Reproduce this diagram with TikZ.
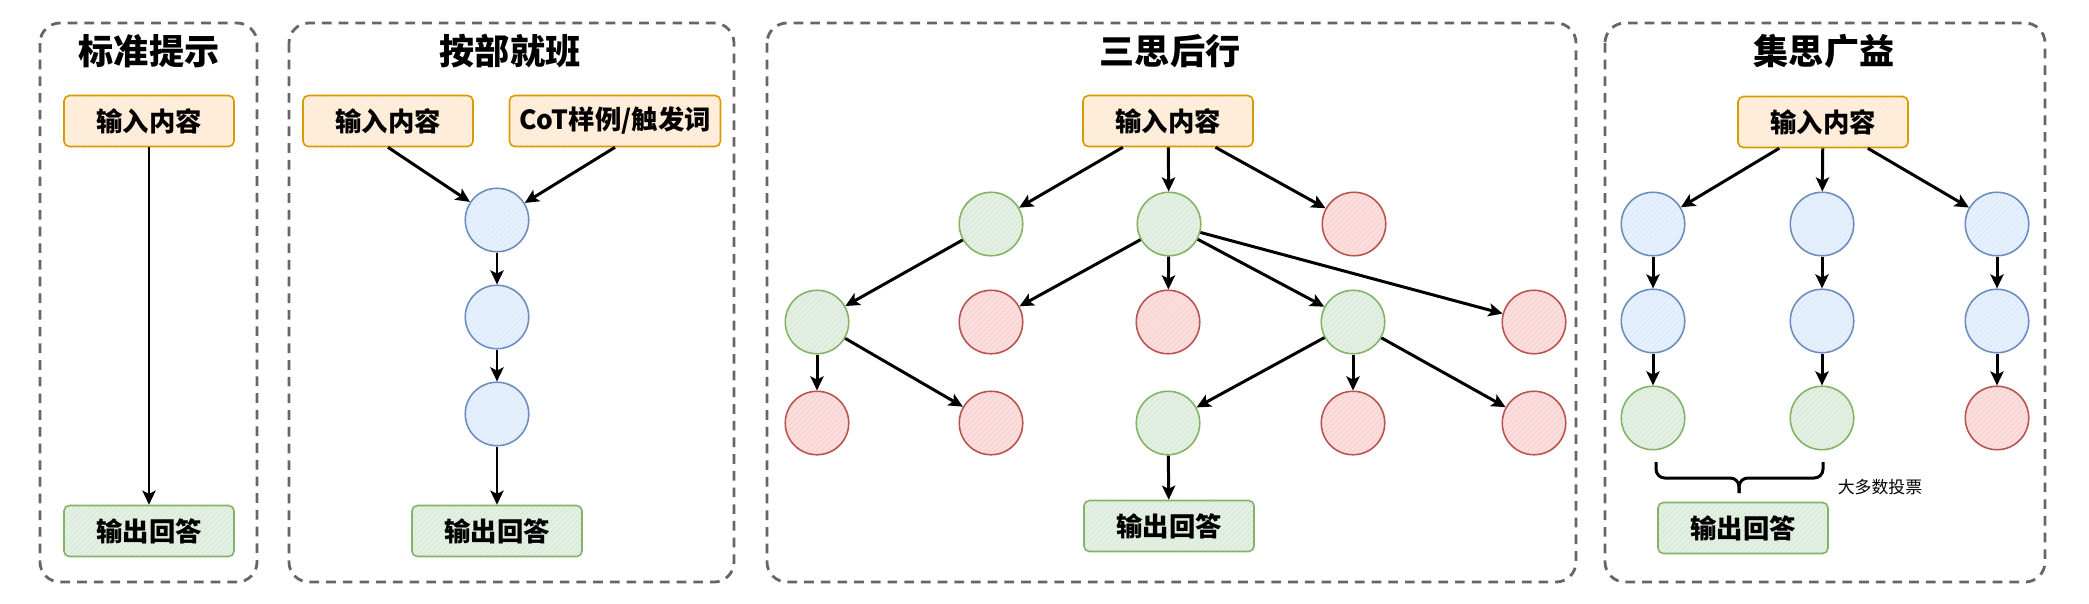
\documentclass[tikz,border=0pt]{standalone}
\usepackage{fontspec}
\setmainfont{Noto Sans CJK SC}
\usetikzlibrary{arrows.meta,patterns,positioning}

\definecolor{orangefill}{HTML}{FFE6CC}
\definecolor{orangeline}{HTML}{D79B00}
\definecolor{greenfill}{HTML}{D5E8D4}
\definecolor{greenline}{HTML}{82B366}
\definecolor{bluefill}{HTML}{DAE8FC}
\definecolor{blueline}{HTML}{6C8EBF}
\definecolor{redfill}{HTML}{F8CECC}
\definecolor{redline}{HTML}{B85450}

\def\rowsep{1.94cm}

\tikzset{thought/.style={circle,minimum size=1.27cm,inner sep=0pt,line width=0.9pt,
  draw=#1line,preaction={fill=#1fill!65!white},pattern=north east lines,pattern color=#1fill}}

\begin{document}
\begin{tikzpicture}[x=0.02cm,y=-0.02cm,->,>={Stealth[length=8pt,width=7.5pt,inset=1.8pt]},
  line width=1.7pt,node distance=\rowsep]
\tikzstyle{panel}=[-,draw=black!60,line width=1.6pt,dash pattern=on 5.5pt off 4pt,rounded corners=0.4cm]
\tikzstyle{title}=[font=\bfseries\fontsize{20}{24}\selectfont]
\tikzstyle{box}=[rectangle,rounded corners=3pt,line width=0.9pt,minimum width=3.4cm,minimum height=1.02cm,
  inner sep=0pt,font=\bfseries\fontsize{15}{18}\selectfont]
\tikzstyle{input box}=[box,draw=orangeline,preaction={fill=orangefill!65!white},pattern=north east lines,pattern color=orangefill]
\tikzstyle{output box}=[box,draw=greenline,preaction={fill=greenfill!65!white},pattern=north east lines,pattern color=greenfill]

\useasboundingbox (0,0) rectangle (2089,603);

% Draw the four dashed panels
\draw[panel] (40,23) rectangle (257,582);
\draw[panel] (289,23) rectangle (734,582);
\draw[panel] (767,23) rectangle (1576,582);
\draw[panel] (1605,23) rectangle (2045,582);

% Write panel titles
\foreach \name/\x/\txt in {1/149/标准提示,2/510/按部就班,3/1170/三思后行,4/1824/集思广益}
\node[title] (title-\name) at (\x,51) {\txt};

% Standard prompt
\node[input box] (in1) at (149,121) {输入内容};
\node[output box] (out1) at (149,531) {输出回答};
\path (in1) edge[line width=1.4pt] (out1);

% Chain of thought
\node[input box] (in2) at (388,121) {输入内容};
\node[input box,minimum width=4.22cm] (cot) at (615,121) {CoT样例/触发词};
\node[thought=blue] (S-1) at (497,220) {};
\foreach \name/\prev in {2/1,3/2}
\node[thought=blue,below of=S-\prev] (S-\name) {};
\node[output box] (out2) at (497,531) {输出回答};

\path (in2.south) edge (S-1)
      (cot.south) edge (S-1)
      (S-1) edge (S-2)
      (S-2) edge (S-3)
      (S-3) edge (out2);

% Tree of thoughts
\node[input box] (in3) at (1168,121) {输入内容};
\foreach \x/\c [count=\name] in {991/green,1169/green,1354/red}
\node[thought=\c] (A-\name) at (\x,224) {};
\foreach \x/\c [count=\name] in {817/green,991/red,1168/red,1353/green,1534/red}
\node[thought=\c] (B-\name) at (\x,322) {};
\foreach \x/\c [count=\name] in {817/red,991/red,1168/green,1353/red,1534/red}
\node[thought=\c] (C-\name) at (\x,423) {};
\node[output box] (out3) at (1169,526) {输出回答};

\foreach \dest in {1,...,3}
\path (in3) edge (A-\dest);
\path (A-1) edge (B-1);
\foreach \dest in {2,...,5}
\path (A-2) edge (B-\dest);
\foreach \dest in {1,2}
\path (B-1) edge (C-\dest);
\foreach \dest in {3,...,5}
\path (B-4) edge (C-\dest);
\path (C-3) edge (out3);

% Self-consistency
\node[input box] (in4) at (1823,122) {输入内容};
\foreach \x/\c [count=\col] in {1653/green,1822/green,1997/red} {
  \node[thought=blue] (V-\col-1) at (\x,224) {};
  \node[thought=blue,below of=V-\col-1] (V-\col-2) {};
  \node[thought=\c,below of=V-\col-2] (V-\col-3) {};
  \path (in4) edge (V-\col-1)
        (V-\col-1) edge (V-\col-2)
        (V-\col-2) edge (V-\col-3);
}

% Majority vote brace
\coordinate (vote-l) at (1656,462);
\coordinate (vote-r) at (1823,462);
\coordinate (vote-tip) at (1739,493);
\draw[-,rounded corners=5pt] (vote-l) -- (1656,478) -- (1739,478) -- (vote-tip);
\draw[-,rounded corners=5pt] (vote-r) -- (1823,478) -- (1739,478) -- (vote-tip);
\node[font=\fontsize{9.6}{11}\selectfont] (vote) at (1880,487) {大多数投票};
\node[output box] (out4) at (1743,528) {输出回答};

\end{tikzpicture}
\end{document}
